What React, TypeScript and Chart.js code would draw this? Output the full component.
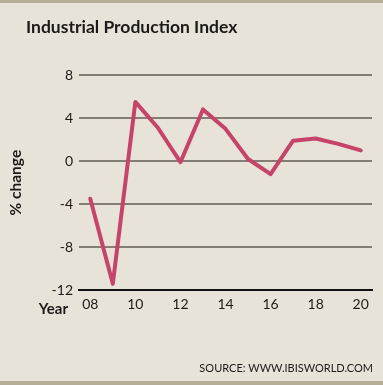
import React, { useEffect, useRef } from "react";
import { Chart, registerables } from "chart.js";

Chart.register(...registerables);

const years = ["08", "09", "10", "11", "12", "13", "14", "15", "16", "17", "18", "19", "20"];
const changes = [-3.5, -11.4, 5.5, 3.1, -0.1, 4.8, 3.0, 0.2, -1.2, 1.9, 2.1, 1.6, 1.0];
const yTicks = [8, 4, 0, -4, -8, -12];

const titleText = "Industrial Production Index";
const yAxisLabel = "% change";
const xAxisLabel = "Year";
const sourceText = "SOURCE: WWW.IBISWORLD.COM";

const BG = "#e8e3d8";
const BAND = "#b4ad98";
const LINE = "#c6436a";
const GRID = "#827e76";
const TEXT = "#1c1a18";
const FONT = "Lato, 'Open Sans', sans-serif";

const decor = {
  id: "decor",
  beforeDraw(chart: any) {
    const { ctx, width, height } = chart;
    ctx.save();
    ctx.fillStyle = BG;
    ctx.fillRect(0, 0, width, height);
    ctx.fillStyle = BAND;
    ctx.fillRect(0, 0, width, 3);
    ctx.fillRect(0, 381, width, height - 381);
    ctx.restore();
  },
  afterDraw(chart: any) {
    const { ctx } = chart;
    ctx.save();
    ctx.fillStyle = TEXT;
    ctx.textBaseline = "alphabetic";
    ctx.textAlign = "left";
    ctx.font = `bold 17.5px ${FONT}`;
    ctx.fillText(titleText, 26, 33);
    ctx.font = `bold 15px ${FONT}`;
    ctx.textAlign = "right";
    ctx.fillText(xAxisLabel, 68, 314);
    ctx.font = `11px ${FONT}`;
    ctx.fillText(sourceText, 373, 372);
    ctx.restore();
  },
};

export default function App() {
  const ref = useRef<HTMLCanvasElement>(null);
  useEffect(() => {
    const chart = new Chart(ref.current!, {
      type: "line",
      data: {
        labels: years,
        datasets: [
          {
            data: changes,
            borderColor: LINE,
            borderWidth: 4,
            pointRadius: 0,
            tension: 0,
            borderJoinStyle: "round",
            borderCapStyle: "round",
            fill: false,
          },
        ],
      },
      options: {
        responsive: false,
        animation: false,
        layout: { padding: { top: 75, right: 11, bottom: 64.7, left: 0 } },
        plugins: { legend: { display: false }, tooltip: { enabled: false }, title: { display: false } },
        scales: {
          x: {
            type: "category",
            offset: true,
            grid: { display: false, drawTicks: false },
            border: { display: true, color: "#111", width: 2 },
            ticks: {
              color: TEXT,
              font: { family: FONT, size: 14 },
              padding: 6,
              maxRotation: 0,
              autoSkip: false,
              callback: (v: any, i: number) => (i % 2 === 0 ? years[i] : ""),
            },
            afterFit: (s: any) => {
              s.height = 30;
            },
          },
          y: {
            min: -12,
            max: 8,
            afterBuildTicks: (s: any) => {
              s.ticks = yTicks.map((v) => ({ value: v }));
            },
            grid: {
              color: (c: any) => (c.tick && c.tick.value === -12 ? "rgba(0,0,0,0)" : GRID),
              lineWidth: 2,
              drawTicks: false,
            },
            border: { display: false },
            ticks: {
              color: TEXT,
              font: { family: FONT, size: 14 },
              padding: 6,
            },
            title: {
              display: true,
              text: yAxisLabel,
              color: TEXT,
              font: { family: FONT, size: 15.5, weight: "bold" },
              padding: { top: 7, bottom: 0 },
            },
            afterFit: (s: any) => {
              s.width = 79;
            },
          },
        },
      },
      plugins: [decor],
    });
    return () => chart.destroy();
  }, []);
  return (
    <div style={{ position: "fixed", left: 0, top: 0, width: 383, height: 385, background: BG }}>
      <canvas ref={ref} width={383} height={385} style={{ display: "block", width: 383, height: 385 }} />
    </div>
  );
}
